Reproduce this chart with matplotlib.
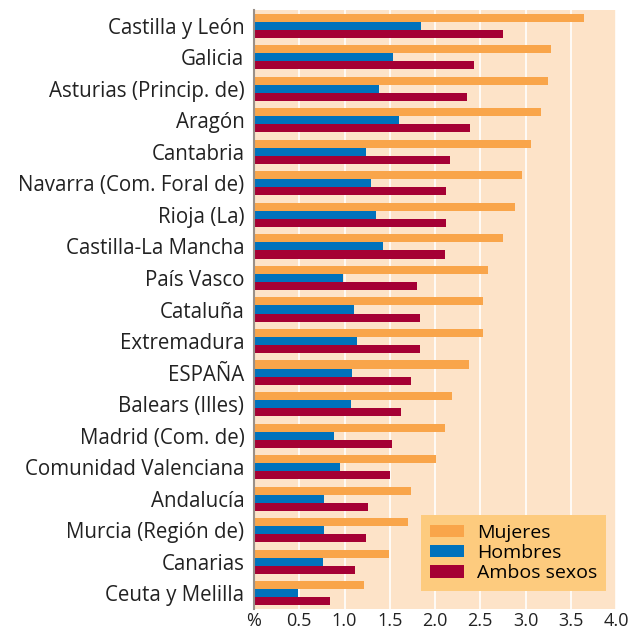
import matplotlib
matplotlib.use("Agg")
import matplotlib.pyplot as plt
import numpy as np
from matplotlib.patches import Patch

categories = ["Castilla y León", "Galicia", "Asturias (Princip. de)", "Aragón", "Cantabria",
              "Navarra (Com. Foral de)", "Rioja (La)", "Castilla-La Mancha", "País Vasco",
              "Cataluña", "Extremadura", "ESPAÑA", "Balears (Illes)", "Madrid (Com. de)",
              "Comunidad Valenciana", "Andalucía", "Murcia (Región de)", "Canarias", "Ceuta y Melilla"]
mujeres = [3.65, 3.28, 3.245, 3.17, 3.06, 2.96, 2.88, 2.75, 2.59, 2.53, 2.53, 2.38, 2.19, 2.11,
           2.01, 1.735, 1.70, 1.49, 1.215]
hombres = [1.845, 1.536, 1.38, 1.60, 1.24, 1.29, 1.35, 1.425, 0.98, 1.105, 1.14, 1.08, 1.07, 0.885,
           0.95, 0.775, 0.775, 0.76, 0.485]
ambos = [2.75, 2.43, 2.355, 2.39, 2.165, 2.12, 2.12, 2.11, 1.80, 1.835, 1.835, 1.735, 1.625, 1.525,
         1.50, 1.26, 1.24, 1.115, 0.84]
series_names = ["Mujeres", "Hombres", "Ambos sexos"]
colors = ["#F9A54A", "#0072BC", "#A50034"]
xticks = [0, 0.5, 1.0, 1.5, 2.0, 2.5, 3.0, 3.5, 4.0]
xticklabels = ["%", "0.5", "1.0", "1.5", "2.0", "2.5", "3.0", "3.5", "4.0"]

plt.rcParams['font.family'] = ['Open Sans', 'DejaVu Sans']

fig = plt.figure(figsize=(6.32, 6.34), dpi=100)
ax = fig.add_axes([254/632, 1-609/634, (616-254)/632, (609-10)/634])
ax.set_facecolor("#FDE3C8")

n = len(categories)
y = np.arange(n)
h = 0.255
for i, (vals, c) in enumerate(zip([mujeres, hombres, ambos], colors)):
    ax.barh(y + (i - 1) * h, vals, height=h, color=c, zorder=3, label=series_names[i])

ax.set_ylim(n - 0.5, -0.5)
ax.set_xlim(0, 3.98)
ax.set_yticks(y)
ax.set_yticklabels(categories, fontsize=14.8, color="#222222")
ax.set_xticks(xticks)
ax.set_xticklabels(xticklabels, fontsize=13, color="#222222")
ax.tick_params(axis='both', length=0)
ax.tick_params(axis='y', pad=7)
ax.tick_params(axis='x', pad=2)
ax.grid(axis='x', color='white', linewidth=1.2, zorder=1)
for s in ['top', 'right', 'bottom']:
    ax.spines[s].set_visible(False)
ax.spines['left'].set_color('#9A9089')
ax.spines['left'].set_linewidth(1.5)
ax.spines['left'].set_zorder(4)

handles = [Patch(facecolor=c) for c in colors]
leg = ax.legend(handles, series_names, loc='lower right', bbox_to_anchor=(0.972, 0.03),
                borderaxespad=0, fontsize=14, frameon=True, fancybox=False,
                handlelength=1.75, handleheight=0.6, borderpad=0.45, labelspacing=0.12,
                handletextpad=0.65)
leg.get_frame().set_facecolor("#FDCB7E")
leg.get_frame().set_edgecolor("none")
leg.get_frame().set_alpha(1)
leg.set_zorder(5)

fig.savefig("out.png", dpi=100)
